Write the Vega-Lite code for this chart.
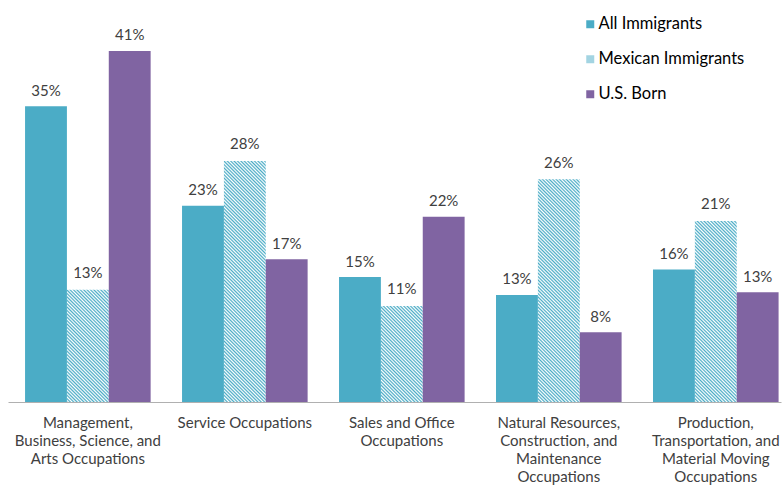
{
  "$schema": "https://vega.github.io/schema/vega-lite/v6.json",
  "width": 773,
  "height": 391,
  "autosize": {"type": "none"},
  "padding": {"left": 8, "top": 11, "right": 1, "bottom": 83},
  "background": "white",
  "config": {"view": {"stroke": null}, "font": "Lato"},
  "data": {
    "values": [
      {"occupation": "Management, Business, Science, and Arts Occupations", "group": "All Immigrants", "share": 0.348},
      {"occupation": "Management, Business, Science, and Arts Occupations", "group": "Mexican Immigrants", "share": 0.1332},
      {"occupation": "Management, Business, Science, and Arts Occupations", "group": "U.S. Born", "share": 0.413},
      {"occupation": "Service Occupations", "group": "All Immigrants", "share": 0.231},
      {"occupation": "Service Occupations", "group": "Mexican Immigrants", "share": 0.2848},
      {"occupation": "Service Occupations", "group": "U.S. Born", "share": 0.168},
      {"occupation": "Sales and Office Occupations", "group": "All Immigrants", "share": 0.147},
      {"occupation": "Sales and Office Occupations", "group": "Mexican Immigrants", "share": 0.1142},
      {"occupation": "Sales and Office Occupations", "group": "U.S. Born", "share": 0.218},
      {"occupation": "Natural Resources, Construction, and Maintenance Occupations", "group": "All Immigrants", "share": 0.126},
      {"occupation": "Natural Resources, Construction, and Maintenance Occupations", "group": "Mexican Immigrants", "share": 0.2632},
      {"occupation": "Natural Resources, Construction, and Maintenance Occupations", "group": "U.S. Born", "share": 0.082},
      {"occupation": "Production, Transportation, and Material Moving Occupations", "group": "All Immigrants", "share": 0.156},
      {"occupation": "Production, Transportation, and Material Moving Occupations", "group": "Mexican Immigrants", "share": 0.2142},
      {"occupation": "Production, Transportation, and Material Moving Occupations", "group": "U.S. Born", "share": 0.129}
    ]
  },
  "encoding": {
    "x": {
      "field": "occupation",
      "type": "nominal",
      "scale": {
        "domain": ["Management, Business, Science, and Arts Occupations", "Service Occupations", "Sales and Office Occupations", "Natural Resources, Construction, and Maintenance Occupations", "Production, Transportation, and Material Moving Occupations"],
        "paddingInner": 0.2,
        "paddingOuter": 0.062,
        "align": 0.876
      },
      "axis": {
        "title": null,
        "ticks": false,
        "tickSize": 0,
        "labelPadding": 13,
        "labelAngle": 0,
        "labelAlign": "center",
        "labelBaseline": "top",
        "labelFont": "Lato",
        "labelFontSize": 15,
        "labelColor": "#404040",
        "labelLineHeight": 18.3,
        "labelLimit": 300,
        "labelOverlap": false,
        "labelBound": false,
        "domainColor": "#b0b0b0",
        "domainWidth": 1,
        "grid": false,
        "labelExpr": "datum.label == 'Service Occupations' ? 'Service Occupations' : datum.label == 'Sales and Office Occupations' ? ['Sales and Office', 'Occupations'] : datum.label == 'Management, Business, Science, and Arts Occupations' ? ['Management,', 'Business, Science, and', 'Arts Occupations'] : datum.label == 'Natural Resources, Construction, and Maintenance Occupations' ? ['Natural Resources,', 'Construction, and', 'Maintenance', 'Occupations'] : ['Production,', 'Transportation, and', 'Material Moving', 'Occupations']"
      }
    },
    "xOffset": {
      "field": "group",
      "type": "nominal",
      "scale": {"domain": ["All Immigrants", "Mexican Immigrants", "U.S. Born"], "paddingInner": 0, "paddingOuter": 0}
    }
  },
  "layer": [
    {
      "transform": [{"filter": "datum.group === 'Mexican Immigrants'"}],
      "mark": {
        "type": "bar",
        "fill": {
          "gradient": "linear",
          "x1": 0, "y1": 1, "x2": 0.15743, "y2": -0.1186,
          "stops": [
{"offset":0,"color":"#4bacc6"},{"offset":0.005,"color":"#fff"},{"offset":0.01,"color":"#4bacc6"},{"offset":0.015,"color":"#fff"},{"offset":0.02,"color":"#4bacc6"},{"offset":0.025,"color":"#fff"},{"offset":0.03,"color":"#4bacc6"},{"offset":0.035,"color":"#fff"},{"offset":0.04,"color":"#4bacc6"},{"offset":0.045,"color":"#fff"},{"offset":0.05,"color":"#4bacc6"},{"offset":0.055,"color":"#fff"},{"offset":0.06,"color":"#4bacc6"},{"offset":0.065,"color":"#fff"},{"offset":0.07,"color":"#4bacc6"},{"offset":0.075,"color":"#fff"},{"offset":0.08,"color":"#4bacc6"},{"offset":0.085,"color":"#fff"},{"offset":0.09,"color":"#4bacc6"},{"offset":0.095,"color":"#fff"},
{"offset":0.1,"color":"#4bacc6"},{"offset":0.105,"color":"#fff"},{"offset":0.11,"color":"#4bacc6"},{"offset":0.115,"color":"#fff"},{"offset":0.12,"color":"#4bacc6"},{"offset":0.125,"color":"#fff"},{"offset":0.13,"color":"#4bacc6"},{"offset":0.135,"color":"#fff"},{"offset":0.14,"color":"#4bacc6"},{"offset":0.145,"color":"#fff"},{"offset":0.15,"color":"#4bacc6"},{"offset":0.155,"color":"#fff"},{"offset":0.16,"color":"#4bacc6"},{"offset":0.165,"color":"#fff"},{"offset":0.17,"color":"#4bacc6"},{"offset":0.175,"color":"#fff"},{"offset":0.18,"color":"#4bacc6"},{"offset":0.185,"color":"#fff"},{"offset":0.19,"color":"#4bacc6"},{"offset":0.195,"color":"#fff"},
{"offset":0.2,"color":"#4bacc6"},{"offset":0.205,"color":"#fff"},{"offset":0.21,"color":"#4bacc6"},{"offset":0.215,"color":"#fff"},{"offset":0.22,"color":"#4bacc6"},{"offset":0.225,"color":"#fff"},{"offset":0.23,"color":"#4bacc6"},{"offset":0.235,"color":"#fff"},{"offset":0.24,"color":"#4bacc6"},{"offset":0.245,"color":"#fff"},{"offset":0.25,"color":"#4bacc6"},{"offset":0.255,"color":"#fff"},{"offset":0.26,"color":"#4bacc6"},{"offset":0.265,"color":"#fff"},{"offset":0.27,"color":"#4bacc6"},{"offset":0.275,"color":"#fff"},{"offset":0.28,"color":"#4bacc6"},{"offset":0.285,"color":"#fff"},{"offset":0.29,"color":"#4bacc6"},{"offset":0.295,"color":"#fff"},
{"offset":0.3,"color":"#4bacc6"},{"offset":0.305,"color":"#fff"},{"offset":0.31,"color":"#4bacc6"},{"offset":0.315,"color":"#fff"},{"offset":0.32,"color":"#4bacc6"},{"offset":0.325,"color":"#fff"},{"offset":0.33,"color":"#4bacc6"},{"offset":0.335,"color":"#fff"},{"offset":0.34,"color":"#4bacc6"},{"offset":0.345,"color":"#fff"},{"offset":0.35,"color":"#4bacc6"},{"offset":0.355,"color":"#fff"},{"offset":0.36,"color":"#4bacc6"},{"offset":0.365,"color":"#fff"},{"offset":0.37,"color":"#4bacc6"},{"offset":0.375,"color":"#fff"},{"offset":0.38,"color":"#4bacc6"},{"offset":0.385,"color":"#fff"},{"offset":0.39,"color":"#4bacc6"},{"offset":0.395,"color":"#fff"},
{"offset":0.4,"color":"#4bacc6"},{"offset":0.405,"color":"#fff"},{"offset":0.41,"color":"#4bacc6"},{"offset":0.415,"color":"#fff"},{"offset":0.42,"color":"#4bacc6"},{"offset":0.425,"color":"#fff"},{"offset":0.43,"color":"#4bacc6"},{"offset":0.435,"color":"#fff"},{"offset":0.44,"color":"#4bacc6"},{"offset":0.445,"color":"#fff"},{"offset":0.45,"color":"#4bacc6"},{"offset":0.455,"color":"#fff"},{"offset":0.46,"color":"#4bacc6"},{"offset":0.465,"color":"#fff"},{"offset":0.47,"color":"#4bacc6"},{"offset":0.475,"color":"#fff"},{"offset":0.48,"color":"#4bacc6"},{"offset":0.485,"color":"#fff"},{"offset":0.49,"color":"#4bacc6"},{"offset":0.495,"color":"#fff"},
{"offset":0.5,"color":"#4bacc6"},{"offset":0.505,"color":"#fff"},{"offset":0.51,"color":"#4bacc6"},{"offset":0.515,"color":"#fff"},{"offset":0.52,"color":"#4bacc6"},{"offset":0.525,"color":"#fff"},{"offset":0.53,"color":"#4bacc6"},{"offset":0.535,"color":"#fff"},{"offset":0.54,"color":"#4bacc6"},{"offset":0.545,"color":"#fff"},{"offset":0.55,"color":"#4bacc6"},{"offset":0.555,"color":"#fff"},{"offset":0.56,"color":"#4bacc6"},{"offset":0.565,"color":"#fff"},{"offset":0.57,"color":"#4bacc6"},{"offset":0.575,"color":"#fff"},{"offset":0.58,"color":"#4bacc6"},{"offset":0.585,"color":"#fff"},{"offset":0.59,"color":"#4bacc6"},{"offset":0.595,"color":"#fff"},
{"offset":0.6,"color":"#4bacc6"},{"offset":0.605,"color":"#fff"},{"offset":0.61,"color":"#4bacc6"},{"offset":0.615,"color":"#fff"},{"offset":0.62,"color":"#4bacc6"},{"offset":0.625,"color":"#fff"},{"offset":0.63,"color":"#4bacc6"},{"offset":0.635,"color":"#fff"},{"offset":0.64,"color":"#4bacc6"},{"offset":0.645,"color":"#fff"},{"offset":0.65,"color":"#4bacc6"},{"offset":0.655,"color":"#fff"},{"offset":0.66,"color":"#4bacc6"},{"offset":0.665,"color":"#fff"},{"offset":0.67,"color":"#4bacc6"},{"offset":0.675,"color":"#fff"},{"offset":0.68,"color":"#4bacc6"},{"offset":0.685,"color":"#fff"},{"offset":0.69,"color":"#4bacc6"},{"offset":0.695,"color":"#fff"},
{"offset":0.7,"color":"#4bacc6"},{"offset":0.705,"color":"#fff"},{"offset":0.71,"color":"#4bacc6"},{"offset":0.715,"color":"#fff"},{"offset":0.72,"color":"#4bacc6"},{"offset":0.725,"color":"#fff"},{"offset":0.73,"color":"#4bacc6"},{"offset":0.735,"color":"#fff"},{"offset":0.74,"color":"#4bacc6"},{"offset":0.745,"color":"#fff"},{"offset":0.75,"color":"#4bacc6"},{"offset":0.755,"color":"#fff"},{"offset":0.76,"color":"#4bacc6"},{"offset":0.765,"color":"#fff"},{"offset":0.77,"color":"#4bacc6"},{"offset":0.775,"color":"#fff"},{"offset":0.78,"color":"#4bacc6"},{"offset":0.785,"color":"#fff"},{"offset":0.79,"color":"#4bacc6"},{"offset":0.795,"color":"#fff"},
{"offset":0.8,"color":"#4bacc6"},{"offset":0.805,"color":"#fff"},{"offset":0.81,"color":"#4bacc6"},{"offset":0.815,"color":"#fff"},{"offset":0.82,"color":"#4bacc6"},{"offset":0.825,"color":"#fff"},{"offset":0.83,"color":"#4bacc6"},{"offset":0.835,"color":"#fff"},{"offset":0.84,"color":"#4bacc6"},{"offset":0.845,"color":"#fff"},{"offset":0.85,"color":"#4bacc6"},{"offset":0.855,"color":"#fff"},{"offset":0.86,"color":"#4bacc6"},{"offset":0.865,"color":"#fff"},{"offset":0.87,"color":"#4bacc6"},{"offset":0.875,"color":"#fff"},{"offset":0.88,"color":"#4bacc6"},{"offset":0.885,"color":"#fff"},{"offset":0.89,"color":"#4bacc6"},{"offset":0.895,"color":"#fff"},
{"offset":0.9,"color":"#4bacc6"},{"offset":0.905,"color":"#fff"},{"offset":0.91,"color":"#4bacc6"},{"offset":0.915,"color":"#fff"},{"offset":0.92,"color":"#4bacc6"},{"offset":0.925,"color":"#fff"},{"offset":0.93,"color":"#4bacc6"},{"offset":0.935,"color":"#fff"},{"offset":0.94,"color":"#4bacc6"},{"offset":0.945,"color":"#fff"},{"offset":0.95,"color":"#4bacc6"},{"offset":0.955,"color":"#fff"},{"offset":0.96,"color":"#4bacc6"},{"offset":0.965,"color":"#fff"},{"offset":0.97,"color":"#4bacc6"},{"offset":0.975,"color":"#fff"},{"offset":0.98,"color":"#4bacc6"},{"offset":0.985,"color":"#fff"},{"offset":0.99,"color":"#4bacc6"},{"offset":0.995,"color":"#fff"},
{"offset":1,"color":"#4bacc6"}
          ]
        }
      },
      "encoding": {
        "y": {"datum": 0.35, "type": "quantitative", "scale": {"domain": [0, 0.46]}, "axis": null},
        "y2": {"datum": 0}
      }
    },
    {
      "transform": [{"filter": "datum.group === 'Mexican Immigrants'"}],
      "mark": {"type": "bar", "fill": "white", "stroke": "white", "strokeWidth": 2},
      "encoding": {
        "y": {"field": "share", "type": "quantitative", "scale": {"domain": [0, 0.46]}, "axis": null},
        "y2": {"datum": 0.35}
      }
    },
    {
      "transform": [{"filter": "datum.group !== 'Mexican Immigrants'"}],
      "mark": {"type": "bar"},
      "encoding": {
        "y": {"field": "share", "type": "quantitative", "scale": {"domain": [0, 0.46]}, "axis": null},
        "color": {
          "field": "group",
          "type": "nominal",
          "scale": {"domain": ["All Immigrants", "Mexican Immigrants", "U.S. Born"], "range": ["#4bacc6", "#a3d4e2", "#8064a2"]},
          "legend": {
            "title": null,
            "orient": "none",
            "legendX": 574,
            "legendY": 5,
            "symbolType": "square",
            "symbolSize": 64,
            "symbolStrokeWidth": 0,
            "labelFont": "Lato",
            "labelFontSize": 16.5,
            "labelColor": "#000000",
            "labelOffset": 0,
            "rowPadding": 18
          }
        }
      }
    },
    {
      "mark": {"type": "text", "baseline": "alphabetic", "dy": -10.5, "font": "Lato", "fontSize": 15, "color": "#404040"},
      "encoding": {
        "y": {"field": "share", "type": "quantitative", "scale": {"domain": [0, 0.46]}, "axis": null},
        "text": {"field": "share", "type": "quantitative", "format": ".0%"}
      }
    }
  ]
}
